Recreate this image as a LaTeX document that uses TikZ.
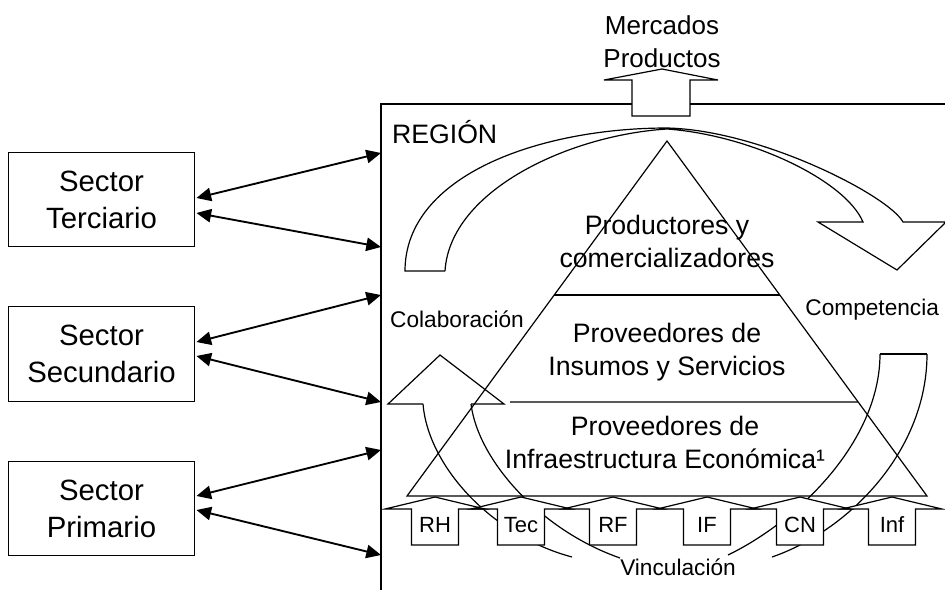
\documentclass[tikz,border=0pt]{standalone}
\usepackage{fontspec}
\setmainfont{Liberation Sans}
\usetikzlibrary{arrows.meta,calc}

\begin{document}
\begin{tikzpicture}[x=0.75pt, y=-0.75pt, line width=0.9pt,
  sector/.style={draw, minimum width=140pt, minimum height=71pt, align=center, font=\fontsize{22}{27.75}\selectfont},
  link/.style={{Triangle[length=11pt,width=10pt]}-{Triangle[length=11pt,width=10pt]}, line width=1.4pt},
  level/.style={align=center, font=\fontsize{20}{24.5}\selectfont},
  small/.style={font=\fontsize{17}{20}\selectfont},
  tag/.style={font=\fontsize{16.5}{20}\selectfont, anchor=base}]

\useasboundingbox (0,0) rectangle (945,590);

\def\halfBox{23.5}
\def\halfHead{50}

% sectores
\node[sector] (terc) at (101.5,199.5) {Sector\\Terciario};
\node[sector] (secu) at (101.5,354) {Sector\\Secundario};
\node[sector] (prim) at (101.5,508.5) {Sector\\Primario};

% region
\draw (381,590) -- (381,104) -- (946,104);
\node[anchor=base west, font=\fontsize{20}{24}\selectfont] (reg) at (387,143) {REGIÓN};

\foreach \s/\ya/\yb/\fa/\fb in {terc/-1.5/13.5/153/247, secu/-12/2/295/402, prim/-12.5/1.5/450/555} {
  \coordinate (\s-up) at (381,\fa);
  \coordinate (\s-dn) at (381,\fb);
  \draw[link] ($(\s.east)+(1,\ya)$) -- (\s-up);
  \draw[link] ($(\s.east)+(1,\yb)$) -- (\s-dn);
}

% mercados
\draw[fill=white] (632,116) -- (632,80) -- (604,80) -- (662,69) -- (718,80) -- (690,80) -- (690,116) -- cycle;
\node[align=center, font=\fontsize{19.5}{24.75}\selectfont] (merc) at (662,41.5) {Mercados\\Productos};

% piramide
\coordinate (apex) at (667,141);
\coordinate (bl) at (407,496);
\coordinate (br) at (927,496);
\draw (apex) -- (bl) -- (br) -- cycle;
\draw ($(apex)!0.434!(bl)$) -- ($(apex)!0.434!(br)$);
\draw (510,402) -- ($(apex)!0.735!(br)$);

\node[level] (prod) at (667,241.5) {Productores y\\comercializadores};
\node[level] (insu) at (667,352) {Proveedores de\\Insumos y Servicios};
\node[level] (infra) at (665,442.5) {Proveedores de\\Infraestructura Económica¹};

% flecha superior
\draw (445,271) -- (405,271) .. controls (405,175) and (540,128) .. (667,128)
  .. controls (760,130) and (888,195) .. (903,222) -- (946,222) -- (897,270) -- (818,222) -- (863,222)
  .. controls (845,180) and (750,135) .. (667,129) .. controls (570,135) and (450,190) .. (445,271);

% colaboracion
\draw (423,404) -- (388,404) -- (440,355) -- (504,404) -- (471,404);
\draw (423,404) .. controls (428,465) and (490,535) .. (572,557);
\draw (471,404) .. controls (478,460) and (540,530) .. (620,558);
\node[small, anchor=base] (colab) at (457,327) {Colaboración};

% competencia
\draw (880,354) -- (927,354);
\draw (880,354) .. controls (880,440) and (800,520) .. (728,555);
\draw (927,354) .. controls (927,450) and (850,530) .. (772,557);
\node[small, anchor=base east] (comp) at (944,315) {Competencia};

% vinculacion
\foreach \c in {435,521,613,707,800,892} {
  \fill[white] (\c-\halfBox,545) -- (\c-\halfBox,509) -- (\c-\halfHead,509) -- (\c,497) -- (\c+\halfHead,509) -- (\c+\halfBox,509) -- (\c+\halfBox,545) -- cycle;
}
\foreach \c/\t in {435/RH, 521/Tec, 613/RF, 707/IF, 800/CN, 892/Inf} {
  \draw (\c-\halfBox,545) -- (\c-\halfBox,509) -- (\c-\halfHead,509) -- (\c,497) -- (\c+\halfHead,509) -- (\c+\halfBox,509) -- (\c+\halfBox,545) -- cycle;
  \node[tag] (\t) at (\c,532) {\t};
}
\node[small, anchor=base] (vinc) at (678,575) {Vinculación};

\end{tikzpicture}
\end{document}
